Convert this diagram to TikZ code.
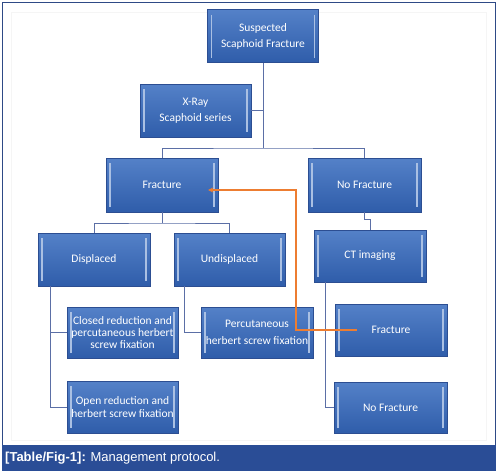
\documentclass[tikz,border=0pt]{standalone}
\usepackage{fontspec}
\setmainfont{Carlito}
\newfontfamily\capfont{Liberation Sans}
\usepackage{xcolor}
\usepackage{tikz}
\usetikzlibrary{arrows.meta,positioning,calc}

\definecolor{boxtop}{HTML}{5481C8}
\definecolor{boxbot}{HTML}{2F5DAA}
\definecolor{boxedge}{HTML}{2C4E92}
\definecolor{linkcol}{HTML}{5B6FA6}
\definecolor{framecol}{HTML}{2E4A86}
\definecolor{capband}{HTML}{2A4D96}
\definecolor{backcol}{HTML}{ED7D31}

\begin{document}
\begin{tikzpicture}[
    x=1pt, y=-1pt,
    stage/.style={draw=boxedge, top color=boxtop, bottom color=boxbot, text=white,
        minimum width=111pt, minimum height=53pt, inner sep=0pt, align=center,
        font=\fontsize{11.5}{16}\selectfont,
        path picture={
            \draw[white!50!boxtop, line width=1.5pt]
                ([xshift=4pt,yshift=-5pt]path picture bounding box.north west) --
                ([xshift=4pt,yshift=5pt]path picture bounding box.south west);
            \draw[white!50!boxtop, line width=1.5pt]
                ([xshift=-4pt,yshift=-5pt]path picture bounding box.north east) --
                ([xshift=-4pt,yshift=5pt]path picture bounding box.south east);
        }},
    tight/.style={font=\fontsize{11.5}{12.3}\selectfont},
    link/.style={draw=linkcol, line width=1pt},
    backarrow/.style={draw=backcol, line width=1.2pt, -{Stealth[length=5pt,width=5pt]}},
]
    \useasboundingbox (0,0) rectangle (498,474);

    % Frame and caption
    \draw[framecol, line width=1.3pt, fill=white] (2.5,2.5) rectangle (495.5,470);
    \draw[black!4] (11.5,12.5) rectangle (486,440);
    \fill[capband] (2,445) rectangle (496,470.5);
    \node[anchor=west, text=white, inner sep=0pt, font=\capfont\fontsize{13}{15}\selectfont]
        (cap) at (5,458) {\textbf{[Table/Fig-1]:} Management protocol.};

    % Boxes
    \node[stage] (susp) at (263,36) {Suspected\\Scaphoid Fracture};
    \node[stage] (xray) at (195.5,110.5) {X-Ray\\Scaphoid series};
    \node[stage, minimum width=112pt, minimum height=54pt] (frac) at (162,185) {Fracture};
    \node[stage, minimum width=113pt, minimum height=54pt] (nofrac) at (364.5,185) {No Fracture};
    \node[stage, minimum width=112pt] (disp) at (94,259.5) {Displaced};
    \node[stage] (undisp) at (229.5,259.5) {Undisplaced};
    \node[stage, minimum width=112pt, minimum height=52pt] (ct) at (370,256) {CT imaging};
    \node[stage, tight, minimum height=51pt] (closed) at (122.5,332.5)
        {Closed reduction and\\percutaneous herbert\\screw fixation};
    \node[stage, minimum width=112pt, minimum height=51pt, font=\fontsize{11.5}{16.7}\selectfont]
        (perc) at (257,332.5) {Percutaneous\\herbert screw fixation};
    \node[stage, minimum width=112pt, minimum height=52pt] (frac2) at (391,330) {Fracture};
    \node[stage, tight, minimum height=52pt] (openred) at (122.5,407)
        {Open reduction and\\herbert screw fixation};
    \node[stage, minimum width=113pt, minimum height=51pt] (nofrac2) at (390.5,407.5) {No Fracture};

    % Connectors
    \coordinate (topbus) at (263,148);
    \coordinate (fracbus) at (162,223);
    \coordinate (jog) at (364.5,219);
    \coordinate (bend) at (296,190);

    \draw[link] (susp.south) -- (topbus);
    \draw[link] (xray.east) -- (xray.east -| topbus);
    \draw[link] (frac.north) |- (topbus) -| (nofrac.north);
    \draw[link] (frac.south) -- (fracbus);
    \draw[link] (disp.north) |- (fracbus) -| (undisp.north);
    \draw[link] (nofrac.south) -- (jog) -| (ct.north);
    \draw[link] ([xshift=-44pt]disp.south) |- (closed.west);
    \draw[link] ([xshift=-44pt]disp.south) |- (openred.west);
    \draw[link] ([xshift=-45.5pt]undisp.south) |- (perc.west);
    \draw[link] ([xshift=-45pt]ct.south) |- (frac2.west);
    \draw[link] ([xshift=-45pt]ct.south) |- (nofrac2.west);

    % Feedback arrow
    \draw[backarrow] ([xshift=22pt]frac2.west) -| (bend) -- ([xshift=-10pt,yshift=-5pt]frac.east);
\end{tikzpicture}
\end{document}
